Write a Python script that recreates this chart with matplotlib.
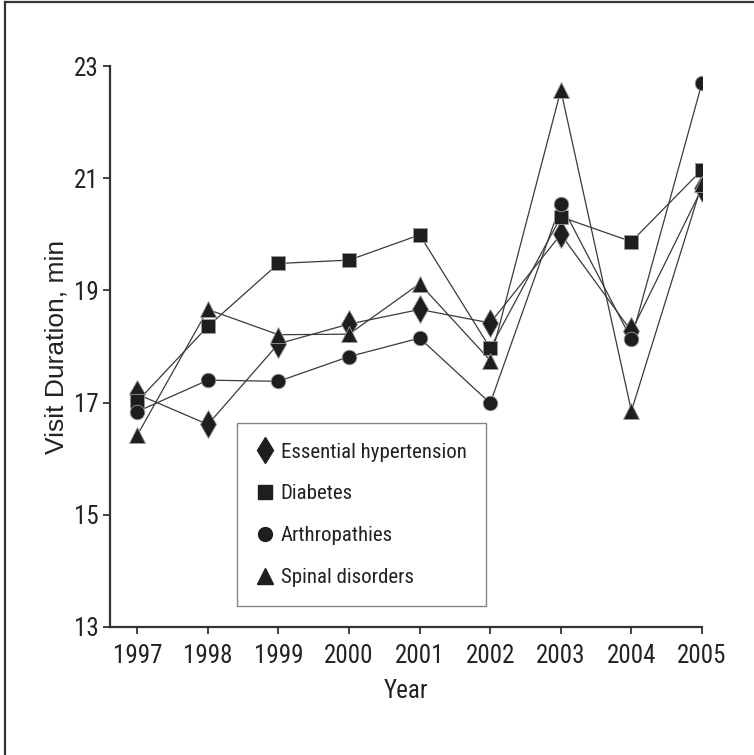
import matplotlib
matplotlib.use("Agg")
import matplotlib.pyplot as plt
from matplotlib.lines import Line2D
from matplotlib import font_manager

years = [1997, 1998, 1999, 2000, 2001, 2002, 2003, 2004, 2005]
hypertension = [17.15, 16.61, 18.05, 18.40, 18.66, 18.42, 20.00, 18.27, 20.82]
diabetes = [17.02, 18.36, 19.48, 19.54, 19.99, 17.97, 20.31, 19.87, 21.15]
arthropathies = [16.84, 17.40, 17.38, 17.82, 18.15, 16.99, 20.54, 18.13, 22.70]
spinal = [16.42, 18.66, 18.21, 18.22, 19.12, 17.75, 22.57, 16.85, 20.90]
yticks = [13, 15, 17, 19, 21, 23]

series = [
    ("Essential hypertension", hypertension, "d", 14),
    ("Diabetes", diabetes, "s", 10),
    ("Arthropathies", arthropathies, "o", 10.5),
    ("Spinal disorders", spinal, "^", 11.5),
]

available = {f.name for f in font_manager.fontManager.ttflist}
narrow_name = None
for cand in ["Roboto Condensed", "Archivo Narrow", "PT Sans Narrow",
             "Liberation Sans Narrow", "Arial Narrow", "Open Sans Condensed"]:
    if cand in available:
        narrow_name = cand
        break
if narrow_name is None:
    narrow_font = dict(family=["DejaVu Sans"], stretch="condensed")
else:
    narrow_font = dict(family=[narrow_name, "DejaVu Sans"])
regular = ["Liberation Sans", "DejaVu Sans"]
TSIZE = 18
LSIZE = 15

fig = plt.figure(figsize=(7.54, 7.55), dpi=100)
ax = fig.add_axes([110 / 754, 1 - 627 / 755, (702 - 110) / 754, (627 - 66) / 755])

line_color = "#3a3a3a"
mark_color = "#1e1e1e"

for name, vals, m, ms in series:
    ax.plot(years, vals, color=line_color, lw=0.9, zorder=2)
for name, vals, m, ms in series:
    ax.plot(years, vals, linestyle="none", marker=m, markersize=ms,
            markerfacecolor=mark_color, markeredgecolor="#9a9a9a",
            markeredgewidth=0.6, zorder=3)

ax.set_xlim(1996.613, 2005)
ax.set_ylim(13, 23)
ax.set_xticks(years)
ax.set_xticklabels([str(y) for y in years], fontsize=TSIZE, color="#222222", **narrow_font)
ax.set_yticks(yticks)
ax.set_yticklabels([str(v) for v in yticks], fontsize=TSIZE, color="#222222", **narrow_font)

for s in ["top", "right"]:
    ax.spines[s].set_visible(False)
for s in ["left", "bottom"]:
    ax.spines[s].set_linewidth(1.6)
    ax.spines[s].set_color("#333333")
ax.tick_params(axis="both", direction="out", length=5, width=1.3, color="#333333")
ax.tick_params(axis="x", pad=7)
ax.tick_params(axis="y", pad=3)

ax.set_xlabel("Year", fontsize=TSIZE, color="#222222", **narrow_font)
ax.xaxis.set_label_coords(0.5, -0.092)
ax.set_ylabel("Visit Duration, min", family=regular, fontsize=19, color="#222222")
ax.yaxis.set_label_coords(-0.070, 0.5)

handles = [Line2D([], [], linestyle="none", marker=m, markersize=ms * 0.95,
                  markerfacecolor=mark_color, markeredgecolor=mark_color)
           for name, vals, m, ms in series]
labels = [name for name, vals, m, ms in series]
prop = dict(size=LSIZE)
prop.update(narrow_font)
leg = ax.legend(handles, labels, loc="upper left", bbox_to_anchor=(0.214, 0.363),
                borderaxespad=0, prop=prop,
                frameon=True, fancybox=False, handlelength=0.85, handletextpad=0.35,
                borderpad=0.92, labelspacing=1.1)
leg.get_frame().set_edgecolor("#666666")
leg.get_frame().set_linewidth(1.0)
for t in leg.get_texts():
    t.set_color("#222222")

# outer border of the figure panel
fig.add_artist(Line2D([5 / 754, 5 / 754], [0, 1 - 2 / 755], transform=fig.transFigure,
                      color="#333333", lw=1.6))
fig.add_artist(Line2D([5 / 754, 1], [1 - 2 / 755, 1 - 2 / 755], transform=fig.transFigure,
                      color="#333333", lw=1.6))

fig.savefig("out.png", dpi=100)
